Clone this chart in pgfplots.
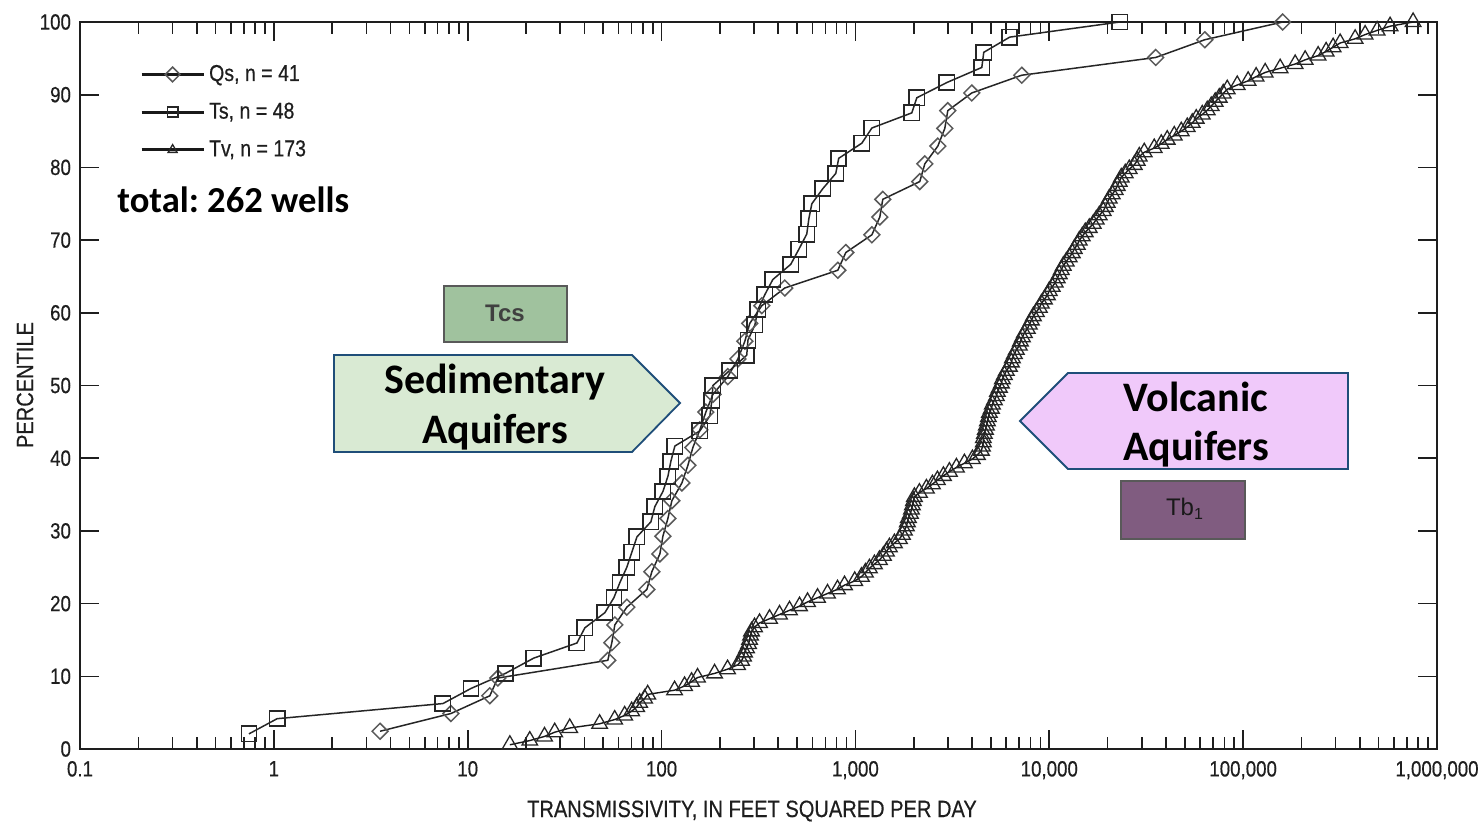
\documentclass[border=0pt]{standalone}
\usepackage{fontspec}
\setmainfont{Liberation Sans}[FakeStretch=0.85, FakeBold=0.45]
\newfontfamily\calib{Carlito}
\newfontfamily\arialf{Liberation Sans}
\usepackage{pgfplots}
\pgfplotsset{compat=1.18}
\usepackage{pgfplotstable}
\definecolor{sedfill}{RGB}{217,234,211}
\definecolor{volfill}{RGB}{240,201,250}
\definecolor{boxedge}{RGB}{31,78,121}
\definecolor{tcsfill}{RGB}{160,194,158}
\definecolor{tbfill}{RGB}{128,92,128}
\definecolor{inkc}{RGB}{30,30,30}

\pgfplotstableread{
T P
3.53 2.44
8.19 4.88
13.0 7.32
14.3 9.76
52.8 12.20
55.4 14.63
57.4 17.07
66.2 19.51
84.0 21.95
89.1 24.39
98.0 26.83
101.6 29.27
107.8 31.71
113.0 34.15
127.3 36.59
136.7 39.02
145.0 41.46
157.6 43.90
169.2 46.34
184.0 48.78
219.6 51.22
247.6 53.66
269 56.10
285 58.54
329 60.98
432 63.41
811 65.85
892 68.29
1216 70.73
1336 73.17
1384 75.61
2148 78.05
2280 80.49
2661 82.93
2891 85.37
2995 87.80
3984 90.24
7213 92.68
35400 95.12
63400 97.56
160000 100
}\tblQs

\pgfplotstableread{
T P
0.744 2.08
1.04 4.17
7.45 6.25
10.4 8.33
15.7 10.42
21.9 12.50
36.6 14.58
40.2 16.67
51.0 18.75
56.8 20.83
61.0 22.92
66.2 25.00
70.3 27.08
74.6 29.17
88.1 31.25
92.3 33.33
101.6 35.42
107.8 37.50
111.7 39.58
117.1 41.67
157.6 43.75
177.5 45.83
181.7 47.92
184.0 50.00
225 52.08
275 54.17
279 56.25
303 58.33
314 60.42
341 62.50
375 64.58
464 66.67
511 68.75
561 70.83
575 72.92
596 75.00
679 77.08
792 79.17
820 81.25
1079 83.33
1216 85.42
1954 87.50
2074 89.58
2960 91.67
4487 93.75
4592 95.83
6252 97.92
23110 100
}\tblTs

\pgfplotstableread{
T P
16.5 0.58
20.9 1.16
24.9 1.73
28.1 2.31
33.6 2.89
47.9 3.47
57.3 4.05
64.5 4.62
70.1 5.20
74.4 5.78
77.1 6.36
81.8 6.94
84.8 7.51
116.7 8.09
131.4 8.67
142.8 9.25
153.3 9.83
187.7 10.40
219 10.98
246.6 11.56
258.6 12.14
264.8 12.72
267.9 13.29
274.4 13.87
281 14.45
284.4 15.03
287.7 15.61
291.2 16.18
301.7 16.76
320.2 17.34
360.6 17.92
405.9 18.50
457.1 19.08
514.9 19.65
566.2 20.23
637.6 20.81
717.8 21.39
808.3 21.97
878.5 22.54
991.5 23.12
1074 23.70
1126 24.28
1181 24.86
1253 25.43
1330 26.01
1394 26.59
1445 27.17
1497 27.75
1589 28.32
1686 28.90
1747 29.48
1789 30.06
1832 30.64
1854 31.21
1876 31.79
1921 32.37
1945 32.95
1968 33.53
1991 34.10
2015 34.68
2138 35.26
2323 35.84
2495 36.42
2648 36.99
2843 37.57
3053 38.15
3318 38.73
3649 39.31
4013 39.88
4258 40.46
4465 41.04
4519 41.62
4571 42.20
4571 42.77
4627 43.35
4682 43.93
4738 44.51
4795 45.09
4852 45.66
4910 46.24
5027 46.82
5088 47.40
5210 47.98
5336 48.55
5399 49.13
5529 49.71
5662 50.29
5728 50.87
5866 51.45
6007 52.02
6225 52.60
6376 53.18
6452 53.76
6607 54.34
6766 54.91
7012 55.49
7096 56.07
7266 56.65
7440 57.23
7709 57.80
7895 58.38
8084 58.96
8279 59.54
8578 60.12
8890 60.69
9103 61.27
9434 61.85
9775 62.43
10000 63.01
10360 63.58
10740 64.16
11000 64.74
11260 65.32
11530 65.90
11810 66.47
12240 67.05
12680 67.63
13140 68.21
13460 68.79
13950 69.36
14280 69.94
14800 70.52
15330 71.10
16080 71.68
16860 72.25
17470 72.83
18110 73.41
18990 73.99
19450 74.57
19910 75.14
20390 75.72
21130 76.30
21900 76.88
22420 77.46
22960 78.03
23510 78.61
24660 79.19
25860 79.77
27440 80.35
28430 80.92
29120 81.50
30900 82.08
34790 82.66
37820 83.24
40590 83.82
44120 84.39
47950 84.97
51490 85.55
54640 86.13
57280 86.71
61520 87.28
65290 87.86
68460 88.44
71780 89.02
75300 89.60
78950 90.17
82790 90.75
93220 91.33
106100 91.91
116700 92.49
129900 93.06
155200 93.64
185500 94.22
208900 94.80
243700 95.38
267900 95.95
291200 96.53
316500 97.11
378200 97.69
425800 98.27
491000 98.84
572800 99.42
752900 100
}\tblTv

\begin{document}
\frenchspacing
\begin{tikzpicture}
\begin{axis}[
  scale only axis,
  width=678.5pt, height=363.5pt,
  xmode=log,
  xmin=0.1, xmax=1000000,
  ymin=0, ymax=100,
  xtick={0.1,1,10,100,1000,10000,100000,1000000},
  xticklabels={0.1,1,10,100,{1,000},{10,000},{100,000},{1,000,000}},
  ytick={0,10,20,30,40,50,60,70,80,90,100},
  /pgf/number format/assume math mode=true,
  tick align=inside,
  major tick length=9.5pt,
  minor tick length=6pt,
  axis line style={line width=0.9pt, inkc},
  every tick/.style={line width=0.8pt, inkc},
  tick label style={font=\fontsize{11}{13}\selectfont, inkc},
  xticklabel style={yshift=-2.5pt},
  yticklabel style={xshift=-1pt},
  xlabel={TRANSMISSIVITY, IN FEET SQUARED PER DAY},
  ylabel={PERCENTILE},
  label style={font=\fontsize{11.8}{13}\selectfont, inkc},
  xlabel style={at={(axis description cs:0.4952,0)}, anchor=center, yshift=-31pt},
  ylabel style={at={(axis description cs:-0.0405,0.5007)}, anchor=center},
  legend style={at={(0.044,0.947)}, anchor=north west, draw=none, fill=none,
    font=\fontsize{11.5}{13}\selectfont, text=inkc, row sep=5.3pt,
    inner sep=0pt},
  legend cell align=left,
  legend image code/.code={%
    \draw[line width=1.5pt, black!90] (0pt,0pt) -- (31pt,0pt);
    \draw[#1, mark size=2.6pt, only marks] plot coordinates {(15.5pt,0pt)};},
]
\addplot[line width=0.75pt, black!85, mark=square, mark size=2.8pt,
  mark options={rotate=45, draw=black!65, line width=0.75pt, fill=none, solid}]
  table[x=T, y=P] {\tblQs};
\addlegendentry{Qs, n = 41}
\addplot[line width=0.75pt, black!85, mark=square, mark size=3.8pt,
  mark options={draw=black!85, line width=0.85pt, fill=none, solid}]
  table[x=T, y=P] {\tblTs};
\addlegendentry{Ts, n = 48}
\addplot[line width=0.7pt, black!90, mark=triangle, mark size=4.5pt,
  mark options={draw=black!85, line width=0.65pt, fill=none, solid}]
  table[x=T, y=P] {\tblTv};
\addlegendentry{Tv, n = 173}
\end{axis}

% annotations (coordinates in pt from the axis' lower left corner)
\node[anchor=base west, inner sep=0pt, font=\calib\bfseries\fontsize{18.3}{21}\selectfont] at (18.5pt,268.5pt) {total: 262 wells};

\draw[boxedge, line width=0.9pt, fill=sedfill]
  (127pt,197pt) -- (276pt,197pt) -- (300pt,173pt) -- (276pt,148.5pt) -- (127pt,148.5pt) -- cycle;
\node[anchor=base, font=\calib\bfseries\fontsize{21}{25}\selectfont] at (207.5pt,178pt) {Sedimentary};
\node[anchor=base, font=\calib\bfseries\fontsize{21}{25}\selectfont] at (207.5pt,153pt) {Aquifers};

\draw[boxedge, line width=0.9pt, fill=volfill]
  (470pt,164pt) -- (494pt,188pt) -- (634pt,188pt) -- (634pt,140pt) -- (494pt,140pt) -- cycle;
\node[anchor=base, font=\calib\bfseries\fontsize{21}{25}\selectfont] at (558pt,169pt) {Volcanic};
\node[anchor=base, font=\calib\bfseries\fontsize{21}{25}\selectfont] at (558pt,144.5pt) {Aquifers};

\draw[black!65, line width=0.9pt, fill=tcsfill] (182pt,203.5pt) rectangle (243.5pt,231.5pt);
\node[font=\arialf\bfseries\fontsize{12}{14}\selectfont, text=black!75] at (212.5pt,218pt) {Tcs};
\draw[black!65, line width=0.9pt, fill=tbfill] (520.5pt,105pt) rectangle (582.5pt,134pt);
\node[font=\arialf\fontsize{12}{14}\selectfont, text=black!90] at (552.5pt,120pt) {Tb\textsubscript{1}};

\pgfresetboundingbox
\path[use as bounding box] (-40pt,-36pt) rectangle (702pt,374.5pt);
\end{tikzpicture}
\end{document}
